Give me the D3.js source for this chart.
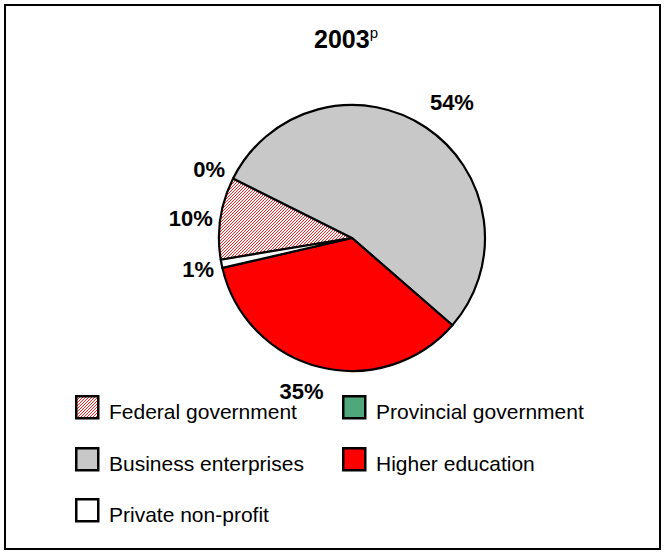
<!DOCTYPE html>
<html>
<head>
<meta charset="utf-8">
<script src="https://cdn.jsdelivr.net/npm/d3@7"></script>
<style>
  html, body { margin: 0; padding: 0; background: #fff; }
  svg { display: block; }
  text { font-family: Arial, "Liberation Sans", Helvetica, sans-serif; }
</style>
</head>
<body>
<svg id="chart" width="664" height="554"></svg>
<script>
// R&D performance shares by sector, 2003 (preliminary)
const sectors = ["Federal government", "Provincial government", "Business enterprises", "Higher education", "Private non-profit"];
const shares = [10, 0, 54, 35, 1];
const sectorFills = ["url(#hatchRed)", "#4fa77b", "#c8c8c8", "#ff0000", "#ffffff"];
const titleYear = "2003";
const titleNote = "p";

// label fine-tuning (pixels) so labels sit clear of each other
const labelNudge = [[4, 3], [1, 0], [7, -9], [-10, 6], [4, 2]];

const W = 664, H = 554;
const svg = d3.select("#chart");

const defs = svg.append("defs");
const hatch = defs.append("pattern")
  .attr("id", "hatchRed")
  .attr("patternUnits", "userSpaceOnUse")
  .attr("width", 3).attr("height", 3);
hatch.append("rect").attr("width", 3).attr("height", 3).attr("fill", "#ffffff");
hatch.append("path")
  .attr("d", "M0,3 L3,0 M-1,1 L1,-1 M2,4 L4,2")
  .attr("stroke", "#ff2020").attr("stroke-width", 1);

// outer frame
svg.append("rect")
  .attr("x", 5).attr("y", 5)
  .attr("width", 655).attr("height", 544)
  .attr("fill", "none").attr("stroke", "#000").attr("stroke-width", 2);

// title
const title = svg.append("text")
  .attr("x", 346).attr("y", 48)
  .attr("text-anchor", "middle")
  .attr("font-weight", "bold")
  .attr("font-size", 25)
  .text(titleYear);
title.append("tspan")
  .attr("dy", -10)
  .attr("font-size", 15)
  .attr("font-weight", "normal")
  .text(titleNote);

// pie
const cx = 352, cy = 238, r = 133;
const toRad = d => d * Math.PI / 180;
const start = toRad(260.6);

const data = sectors.map((s, i) => ({ name: s, value: shares[i], fill: sectorFills[i], i }));
const pie = d3.pie().sort(null).value(d => d.value)
  .startAngle(start).endAngle(start + 2 * Math.PI);
const arcs = pie(data);
const arc = d3.arc().innerRadius(0).outerRadius(r);

const g = svg.append("g").attr("transform", `translate(${cx},${cy})`);
g.selectAll("path.slice")
  .data(arcs.filter(a => a.endAngle > a.startAngle))
  .join("path")
  .attr("class", "slice")
  .attr("d", arc)
  .attr("fill", d => d.data.fill)
  .attr("stroke", "#000")
  .attr("stroke-width", 2.2)
  .attr("stroke-linejoin", "round");

// percentage labels placed just outside each slice
const total = d3.sum(shares);
const labelSize = 22, gap = 12;
g.selectAll("text.pct")
  .data(arcs)
  .join("text")
  .attr("class", "pct")
  .attr("font-weight", "bold")
  .attr("font-size", labelSize)
  .attr("text-anchor", "middle")
  .text(d => Math.round(d.data.value / total * 100) + "%")
  .each(function (d) {
    const a = (d.startAngle + d.endAngle) / 2;
    const w = this.getComputedTextLength();
    const hh = 7.5;
    const x = Math.sin(a) * (r + gap + w / 2) + labelNudge[d.data.i][0];
    const y = -Math.cos(a) * (r + gap + hh) + labelNudge[d.data.i][1];
    d3.select(this).attr("x", x).attr("y", y + hh);
  });

// legend: two columns
const legendCols = [75, 342];
const legendRows = [395, 447, 498];
const legend = svg.append("g");
data.forEach((d, i) => {
  const col = i % 2, row = Math.floor(i / 2);
  const x = legendCols[col], y = legendRows[row];
  legend.append("rect")
    .attr("x", x + 1.25).attr("y", y + 1.25)
    .attr("width", 22).attr("height", 22)
    .attr("fill", d.fill)
    .attr("stroke", "#000").attr("stroke-width", 2.5);
  legend.append("text")
    .attr("x", x + 34).attr("y", y + 24)
    .attr("font-size", 21)
    .attr("fill", "#000")
    .text(d.name);
});
</script>
</body>
</html>
